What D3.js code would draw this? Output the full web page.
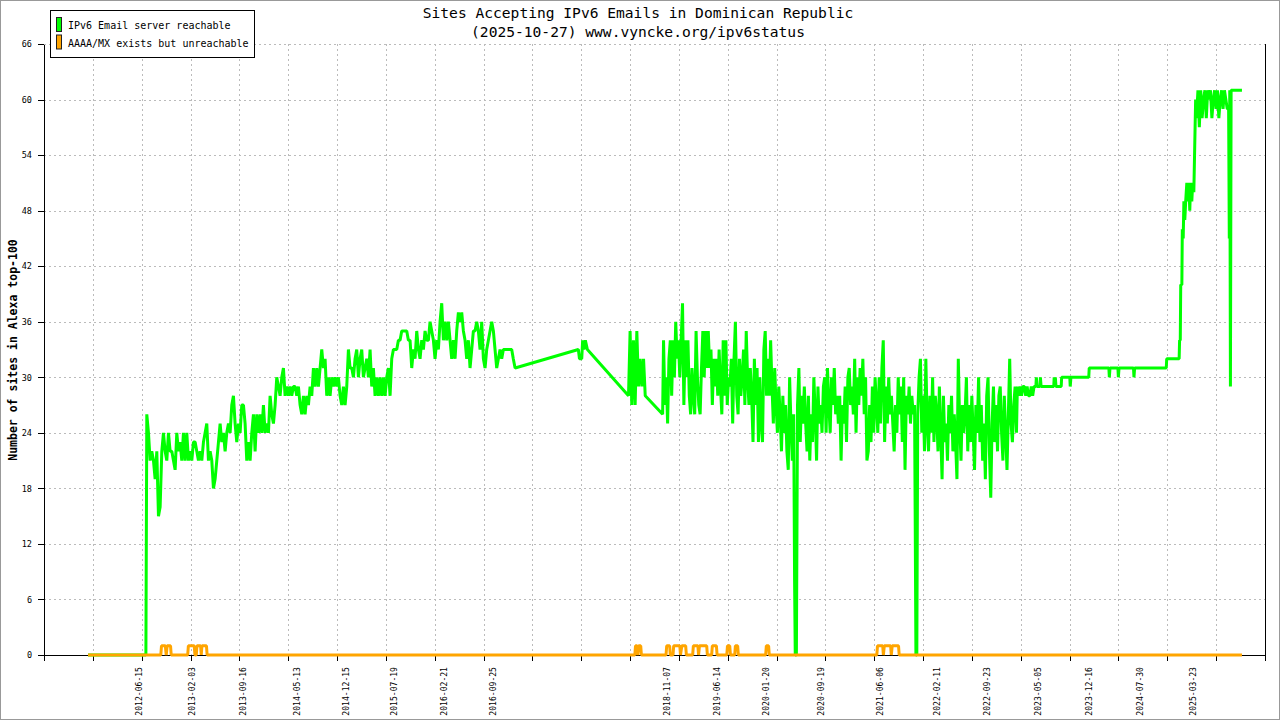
<!DOCTYPE html>
<html>
<head>
<meta charset="utf-8">
<script src="https://cdn.jsdelivr.net/npm/d3@7"></script>
<style>
  body { margin: 0; background: #fff; }
  svg { display: block; }
  text { font-family: "DejaVu Sans Mono", monospace; fill: #000; }
</style>
</head>
<body>
<div id="chart"></div>
<script>
const width = 1280;
const height = 720;
const margin = { top: 44, right: 15, bottom: 65, left: 44 };
const innerWidth = width - margin.left - margin.right;
const innerHeight = height - margin.top - margin.bottom;

const titleLines = ["Sites Accepting IPv6 Emails in Dominican Republic", "(2025-10-27) www.vyncke.org/ipv6status"];
const yLabel = "Number of sites in Alexa top-100";
const seriesNames = ["IPv6 Email server reachable", "AAAA/MX exists but unreachable"];
const seriesColors = ["#00ff00", "#ffa500"];

const xDomain = ["2011-04-22", "2026-02-06"];
const yTicks = [0, 6, 12, 18, 24, 30, 36, 42, 48, 54, 60, 66];
const xLabelDates = ["2012-06-15", "2013-02-03", "2013-09-16", "2014-05-13", "2014-12-15", "2015-07-19",
  "2016-02-21", "2016-09-25", "2018-11-07", "2019-06-14", "2020-01-20", "2020-09-19", "2021-06-06",
  "2022-02-11", "2022-09-23", "2023-05-05", "2023-12-16", "2024-07-30", "2025-03-23"];

// green series, pieces in date order
const greenLeadDates = ["2011-11-03", "2012-07-16"];
const greenLeadValues = [0, 0];

const green2012Range = ["2012-07-20", "2016-12-21"];
const green2012Values = [
  26,24,21,22,21,19,22,15,16,22,24,22,21,24,22,22,21,20,24,22,
  23,21,24,21,24,21,22,21,23,23,22,21,22,21,23,24,25,21,22,21,
  18,19,21,23,25,23,24,22,24,25,24,27,28,25,23,25,24,27,27,25,
  21,23,21,24,26,22,26,24,26,24,27,24,25,24,28,26,25,27,30,29,
  28,30,31,28,29,28,29,28,29,29,28,29,27,26,28,26,28,27,29,28,
  31,29,31,29,31,33,31,32,28,30,28,30,29,30,29,30,28,27,29,27,
  29,33,31,31,30,32,33,30,32,33,30,31,32,30,33,29,31,28,30,28,
  30,28,30,28,30,31,28,32,33,33,33,34,34,35,35,35,35,34,34,31,
  33,32,35,33,32,34,33,35,34,34,36,35,34,32,34,33,36,38,34,36,
  34,36,34,32,34,32,35,37,36,37,35,34,32,34,31,33,35,35,36,35,
  33,36,32,31,33,34,35,36,35,33,31,32,33,32,33,33,33,33,33,33
];

const greenGapDates = ["2016-12-28", "2017-01-05", "2017-10-12", "2017-10-17", "2017-10-27", "2017-10-31",
  "2017-11-06", "2017-11-12", "2017-11-21", "2018-05-22"];
const greenGapValues = [32, 31, 33, 32, 32, 34, 33, 34, 33, 28];

const green2018Range = ["2018-05-29", "2018-08-04"];
const green2018Values = [35, 27, 34, 27, 35, 29, 32, 29, 32, 28];

const greenBridgeDates = ["2018-10-20"];
const greenBridgeValues = [26];

const green2019Range = ["2018-10-24", "2020-05-22"];
const green2019Values = [
  34,27,30,25,32,34,28,34,30,36, 32,34,30,34,38,27,34,30,34,28,
  26,31,28,26,35,30,27,26,31,35, 30,35,31,35,31,33,27,32,29,32,
  28,33,29,26,34,28,34,27,30,29, 32,25,32,36,28,26,32,28,30,33,
  27,35,30,27,31,28,23,32,27,31, 23,30,25,23,33,35,28,32,28,34,
  29,25,31,27,24,29,26,22,28,24, 27,22,20,30,25,21,26
];

const greenDrop1Dates = ["2020-05-26", "2020-05-29", "2020-06-03"];
const greenDrop1Values = [8, 0, 0];

const green2020Range = ["2020-06-08", "2021-11-08"];
const green2020Values = [
  27,31,23,28,25,29,25,22,28,21, 26,23,30,26,21,29,25,27,24,29,
  30,24,31,27,24,30,27,31,26,28, 25,28,21,27,25,29,23,30,31,27,
  29,26,32,24,30,27,31,28,32,26, 30,21,22,27,23,29,24,30,27,24,
  30,25,31,34,23,29,25,30,26,28, 25,22,27,24,30,26,29,23,30,20,
  28,26,29,25,28,26,27
];

const greenDrop2Dates = ["2021-11-11", "2021-11-14", "2021-11-18"];
const greenDrop2Values = [14, 0, 0];

const green2022Range = ["2021-11-22", "2023-02-02"];
const green2022Values = [
  26,30,32,24,28,22,32,25,22,28, 24,30,23,28,26,22,29,24,19,28,
  23,25,21,27,24,28,22,26,23,19, 32,25,21,27,24,26,30,22,27,23,
  28,24,20,27,24,30,23,27,21,25, 19,28,30,22,17,25,29,23,27,22,
  28,29,24,21,28,24,20,26,32,25, 23,27,29,24
];

const green2023Range = ["2023-02-06", "2023-04-27"];
const green2023Values = [29, 28, 29, 28, 29, 29, 28, 29, 28, 28, 29, 28, 29, 29];

const greenFlatDates = ["2023-04-29", "2023-05-01", "2023-05-04", "2023-05-17", "2023-05-19", "2023-05-22",
  "2023-07-17", "2023-07-19", "2023-07-22", "2023-07-24", "2023-07-27", "2023-08-19", "2023-08-21",
  "2023-09-26", "2023-09-28", "2023-10-01", "2023-12-19", "2023-12-21", "2024-03-17", "2024-03-19",
  "2024-03-22", "2024-04-26", "2024-04-28", "2024-05-01", "2024-07-04", "2024-07-06", "2024-07-09",
  "2024-11-26", "2024-11-28", "2025-01-20"];
const greenFlatValues = [29, 30, 29, 29, 30, 29, 29, 30, 29, 30, 29, 29, 30, 30, 29, 30, 30, 31, 31, 30,
  31, 31, 30, 31, 31, 30, 31, 31, 32, 32];

const greenRiseDates = ["2025-01-22", "2025-01-24", "2025-01-27", "2025-01-29", "2025-02-03", "2025-02-05",
  "2025-02-09", "2025-02-12", "2025-02-16", "2025-02-20", "2025-02-25", "2025-03-01", "2025-03-06",
  "2025-03-10", "2025-03-14", "2025-03-19", "2025-03-23", "2025-03-28", "2025-04-01", "2025-04-05"];
const greenRiseValues = [32, 34, 34, 40, 40, 46, 45, 49, 47, 49, 51, 49, 51, 48, 51, 49, 51, 50, 55, 60];

const green2025Range = ["2025-04-09", "2025-08-29"];
const green2025Values = [58, 61, 57, 61, 58, 60, 61, 58, 61, 60, 61, 58, 60, 61, 59, 61, 58, 60, 61, 59, 61, 60, 59, 59];

const greenTailDates = ["2025-09-01", "2025-09-03", "2025-09-06", "2025-09-09", "2025-10-27"];
const greenTailValues = [45, 61, 29, 61, 61];

// orange series
const orangeDates = ["2011-11-03",
  "2012-09-20", "2012-09-23", "2012-10-10", "2012-10-14", "2012-10-18", "2012-11-02", "2012-11-05",
  "2013-01-17", "2013-01-20", "2013-02-15", "2013-02-18", "2013-02-24", "2013-02-27", "2013-03-15",
  "2013-03-18", "2013-03-21", "2013-04-10", "2013-04-13",
  "2018-06-19", "2018-06-22", "2018-06-29", "2018-07-02", "2018-07-06", "2018-07-15", "2018-07-18",
  "2018-11-04", "2018-11-07", "2018-11-20", "2018-11-23", "2018-12-05", "2018-12-08", "2019-01-04",
  "2019-01-07", "2019-01-13", "2019-01-30", "2019-02-02",
  "2019-03-02", "2019-03-05", "2019-03-25", "2019-03-28", "2019-04-01", "2019-05-03", "2019-05-06",
  "2019-05-25", "2019-05-28", "2019-06-15", "2019-06-18",
  "2019-07-31", "2019-08-03", "2019-08-13", "2019-08-16",
  "2019-09-04", "2019-09-07", "2019-09-17", "2019-09-20",
  "2020-01-19", "2020-01-22", "2020-02-01", "2020-02-04",
  "2021-05-25", "2021-05-28", "2021-06-20", "2021-06-23", "2021-06-27", "2021-07-25", "2021-07-28",
  "2021-08-01", "2021-08-29", "2021-09-01",
  "2025-10-27"];
const orangeValues = [0,
  0, 1, 1, 0, 1, 1, 0,
  0, 1, 1, 0, 0, 1, 1, 0, 1, 1, 0,
  0, 1, 1, 0, 1, 1, 0,
  0, 1, 1, 0, 0, 1, 1, 0, 1, 1, 0,
  0, 1, 1, 0, 1, 1, 0,
  0, 1, 1, 0,
  0, 1, 1, 0,
  0, 1, 1, 0,
  0, 1, 1, 0,
  0, 1, 1, 0, 1, 1, 0, 1, 1, 0,
  0];

const parseDate = d3.timeParse("%Y-%m-%d");

function pointsOf(dates, values) {
  return dates.map((s, i) => ({ date: parseDate(s), value: values[i] }));
}

function spreadOf(range, values) {
  const t = d3.scaleLinear()
    .domain([0, values.length - 1])
    .range(range.map(s => +parseDate(s)));
  return values.map((v, i) => ({ date: new Date(t(i)), value: v }));
}

const greenData = [].concat(
  pointsOf(greenLeadDates, greenLeadValues),
  spreadOf(green2012Range, green2012Values),
  pointsOf(greenGapDates, greenGapValues),
  spreadOf(green2018Range, green2018Values),
  pointsOf(greenBridgeDates, greenBridgeValues),
  spreadOf(green2019Range, green2019Values),
  pointsOf(greenDrop1Dates, greenDrop1Values),
  spreadOf(green2020Range, green2020Values),
  pointsOf(greenDrop2Dates, greenDrop2Values),
  spreadOf(green2022Range, green2022Values),
  spreadOf(green2023Range, green2023Values),
  pointsOf(greenFlatDates, greenFlatValues),
  pointsOf(greenRiseDates, greenRiseValues),
  spreadOf(green2025Range, green2025Values),
  pointsOf(greenTailDates, greenTailValues)
);
const orangeData = pointsOf(orangeDates, orangeValues);

const svg = d3.select("#chart")
  .append("svg")
  .attr("width", width)
  .attr("height", height)
  .attr("viewBox", `0 0 ${width} ${height}`);

svg.append("rect")
  .attr("x", 0.5).attr("y", 0.5)
  .attr("width", width - 1).attr("height", height - 1)
  .attr("fill", "#fff")
  .attr("stroke", "#999");

const innerChart = svg.append("g")
  .attr("transform", `translate(${margin.left}, ${margin.top})`);

const t0 = parseDate(xDomain[0]);
const t1 = parseDate(xDomain[1]);

const xScale = d3.scaleTime()
  .domain([t0, t1])
  .range([0, innerWidth]);

const yScale = d3.scaleLinear()
  .domain([0, 66])
  .range([innerHeight, 0]);

// 25 evenly spaced major ticks across the date range
const xTickDates = d3.range(26).map(i => new Date(+t0 + i * (t1 - t0) / 25));

// grid
const gridGroup = innerChart.append("g")
  .attr("stroke", "#bbb")
  .attr("stroke-dasharray", "2,3")
  .attr("shape-rendering", "crispEdges");

gridGroup.selectAll("line.h")
  .data(yTicks.filter(d => d > 0))
  .join("line")
  .attr("class", "h")
  .attr("x1", 0)
  .attr("x2", innerWidth)
  .attr("y1", d => Math.round(yScale(d)) + 0.5)
  .attr("y2", d => Math.round(yScale(d)) + 0.5);

gridGroup.selectAll("line.v")
  .data(xTickDates.slice(1, -1))
  .join("line")
  .attr("class", "v")
  .attr("y1", 0)
  .attr("y2", innerHeight)
  .attr("x1", d => Math.round(xScale(d)) + 0.5)
  .attr("x2", d => Math.round(xScale(d)) + 0.5);

// axes
const xAxisGroup = innerChart.append("g")
  .attr("transform", `translate(0, ${innerHeight})`)
  .call(d3.axisBottom(xScale).tickValues(xTickDates).tickFormat("").tickSize(6).tickSizeOuter(0));

const xLabelGroup = innerChart.append("g")
  .attr("transform", `translate(0, ${innerHeight})`)
  .call(d3.axisBottom(xScale)
    .tickValues(xLabelDates.map(parseDate))
    .tickFormat(d3.timeFormat("%Y-%m-%d"))
    .tickSize(0));
xLabelGroup.select(".domain").remove();
xLabelGroup.selectAll("text")
  .attr("transform", "rotate(-90)")
  .attr("text-anchor", "end")
  .attr("x", -12)
  .attr("y", 3)
  .attr("dy", 0)
  .attr("font-family", "DejaVu Sans Mono")
  .attr("font-size", 8.1);

const yAxisGroup = innerChart.append("g")
  .call(d3.axisLeft(yScale).tickValues(yTicks).tickSize(6).tickSizeOuter(0).tickPadding(6));
yAxisGroup.selectAll("text")
  .attr("font-family", "DejaVu Sans Mono")
  .attr("font-size", 8.5);

innerChart.selectAll(".domain, .tick line")
  .attr("stroke", "#000")
  .attr("shape-rendering", "crispEdges");

innerChart.append("line")
  .attr("x1", innerWidth + 0.5).attr("x2", innerWidth + 0.5)
  .attr("y1", 0).attr("y2", innerHeight)
  .attr("stroke", "#000")
  .attr("shape-rendering", "crispEdges");

// lines
const lineGenerator = d3.line()
  .x(d => xScale(d.date))
  .y(d => yScale(d.value));

innerChart.append("path")
  .datum(greenData)
  .attr("d", lineGenerator)
  .attr("fill", "none")
  .attr("stroke", seriesColors[0])
  .attr("stroke-width", 3)
  .attr("stroke-linejoin", "bevel");

innerChart.append("path")
  .datum(orangeData)
  .attr("d", lineGenerator)
  .attr("fill", "none")
  .attr("stroke", seriesColors[1])
  .attr("stroke-width", 3)
  .attr("stroke-linejoin", "bevel");

// title
svg.selectAll("text.title")
  .data(titleLines)
  .join("text")
  .attr("class", "title")
  .attr("x", 638)
  .attr("y", (d, i) => 18 + i * 19)
  .attr("text-anchor", "middle")
  .attr("font-size", 14.6)
  .text(d => d);

svg.append("text")
  .attr("transform", "translate(17, 350) rotate(-90)")
  .attr("text-anchor", "middle")
  .attr("font-weight", "bold")
  .attr("font-size", 11.5)
  .text(yLabel);

// legend
const legend = svg.append("g");
legend.append("rect")
  .attr("x", 50.5).attr("y", 10.5)
  .attr("width", 204).attr("height", 47)
  .attr("fill", "#fff")
  .attr("stroke", "#000");

const legendItems = legend.selectAll("g.item")
  .data(seriesNames)
  .join("g")
  .attr("class", "item")
  .attr("transform", (d, i) => `translate(0, ${i * 17.5})`);

legendItems.append("rect")
  .attr("x", 56.5).attr("y", 17.5)
  .attr("width", 5).attr("height", 14)
  .attr("fill", (d, i) => seriesColors[i])
  .attr("stroke", "#222");

legendItems.append("text")
  .attr("x", 68)
  .attr("y", 29)
  .attr("font-size", 10)
  .text(d => d);
</script>
</body>
</html>
